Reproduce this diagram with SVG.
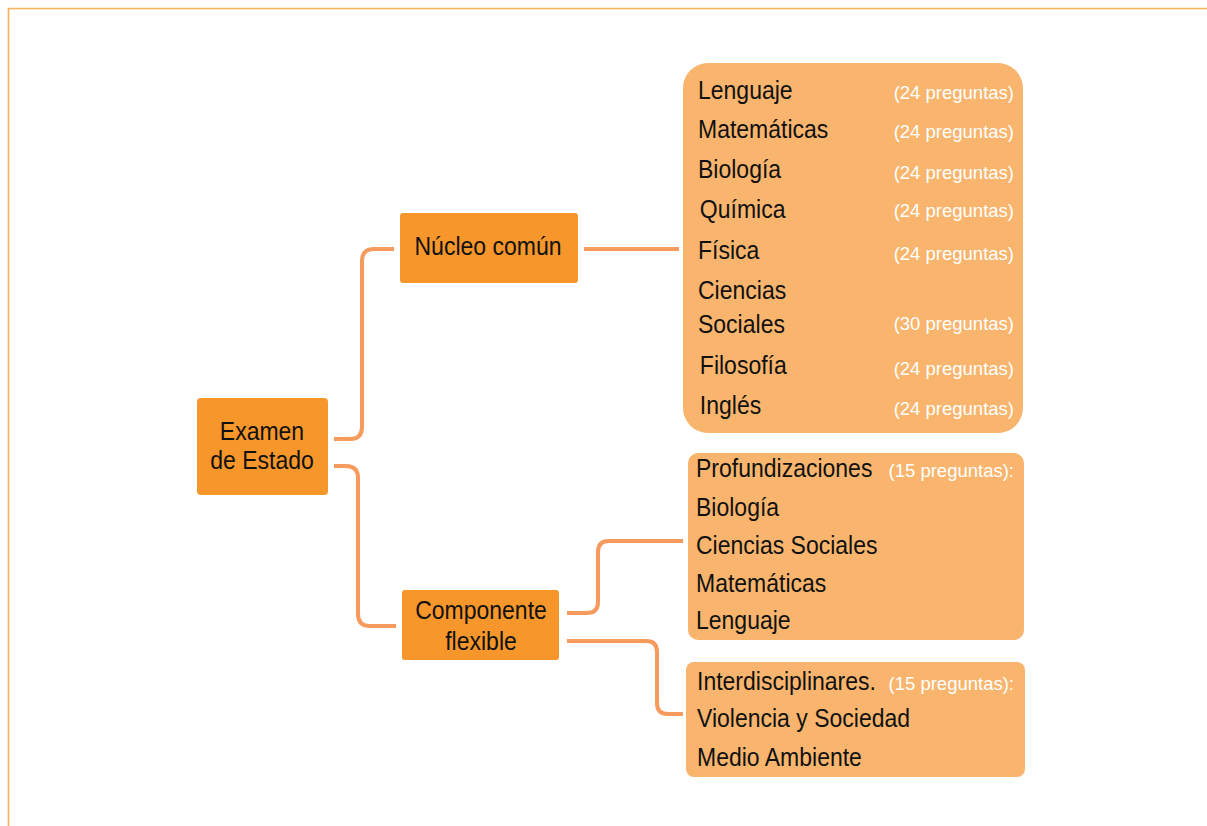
<svg xmlns="http://www.w3.org/2000/svg" width="1207" height="826" viewBox="0 0 1207 826">
<style>
.frame{fill:none;stroke:#FBB05E;stroke-width:1.6}
.node{fill:#F7962A}
.box{fill:#F9B56D}
.conn{fill:none;stroke:#F79A5E;stroke-width:4;stroke-linecap:butt;stroke-linejoin:round}
text{font-family:"Liberation Sans",Arial,sans-serif}
.t{font-size:25px;fill:#111}
.nt{font-size:25px;fill:#111;text-anchor:middle}
.p{font-size:18.5px;fill:#fff;text-anchor:end}
</style>
<rect width="1207" height="826" fill="#fff"/>
<path class="frame" d="M8.5,826 V8.5 H1207"/>
<g id="connectors">
<path class="conn" d="M334,439 H350 Q362,439 362,427 V261 Q362,249 374,249 H394"/>
<path class="conn" d="M584,249 H679"/>
<path class="conn" d="M334,466 H346 Q358,466 358,478 V614 Q358,626 370,626 H396"/>
<path class="conn" d="M567,613 H587 Q598,613 598,602 V552 Q598,541 609,541 H683"/>
<path class="conn" d="M567,641 H646 Q657,641 657,652 V703 Q657,714 668,714 H683"/>
</g>
<g id="examen">
<rect class="node" x="197" y="398" width="131" height="97" rx="4"/>
<g transform="matrix(0.92 0 0 1 20.96 0)">
<text class="nt" x="262" y="440">Examen</text>
<text class="nt" x="262" y="469">de Estado</text>
</g>
</g>
<g id="nucleo">
<rect class="node" x="400" y="213" width="178" height="70" rx="3"/>
<g transform="matrix(0.92 0 0 1 39.04 0)">
<text class="nt" x="488" y="255">Núcleo común</text>
</g>
</g>
<g id="componente">
<rect class="node" x="402" y="590" width="157" height="70" rx="3"/>
<g transform="matrix(0.92 0 0 1 38.48 0)">
<text class="nt" x="481" y="619">Componente</text>
<text class="nt" x="481" y="650">flexible</text>
</g>
</g>
<g id="nucleo-materias">
<rect class="box" x="683" y="63" width="340" height="370" rx="25"/>
<g transform="matrix(0.92 0 0 1 55.84 0)">
<text class="t" x="698" y="99">Lenguaje</text>
<text class="t" x="698" y="138">Matemáticas</text>
<text class="t" x="698" y="178">Biología</text>
<text class="t" x="700" y="218">Química</text>
<text class="t" x="698" y="259">Física</text>
<text class="t" x="698" y="299">Ciencias</text>
<text class="t" x="698" y="333">Sociales</text>
<text class="t" x="700" y="374">Filosofía</text>
<text class="t" x="700" y="414">Inglés</text>
</g>
<text class="p" x="1014" y="99">(24 preguntas)</text>
<text class="p" x="1014" y="138">(24 preguntas)</text>
<text class="p" x="1014" y="179">(24 preguntas)</text>
<text class="p" x="1014" y="217">(24 preguntas)</text>
<text class="p" x="1014" y="260">(24 preguntas)</text>
<text class="p" x="1014" y="330">(30 preguntas)</text>
<text class="p" x="1014" y="375">(24 preguntas)</text>
<text class="p" x="1014" y="415">(24 preguntas)</text>
</g>
<g id="profundizaciones">
<rect class="box" x="688" y="453" width="336" height="187" rx="10"/>
<g transform="matrix(0.92 0 0 1 55.68 0)">
<text class="t" x="696" y="477">Profundizaciones</text>
<text class="t" x="696" y="516">Biología</text>
<text class="t" x="696" y="554">Ciencias Sociales</text>
<text class="t" x="696" y="592">Matemáticas</text>
<text class="t" x="696" y="629">Lenguaje</text>
</g>
<text class="p" x="1014" y="477">(15 preguntas):</text>
</g>
<g id="interdisciplinares">
<rect class="box" x="686" y="662" width="339" height="115" rx="8"/>
<g transform="matrix(0.92 0 0 1 55.76 0)">
<text class="t" x="697" y="690">Interdisciplinares.</text>
<text class="t" x="697" y="727">Violencia y Sociedad</text>
<text class="t" x="697" y="766">Medio Ambiente</text>
</g>
<text class="p" x="1014" y="690">(15 preguntas):</text>
</g>
</svg>
